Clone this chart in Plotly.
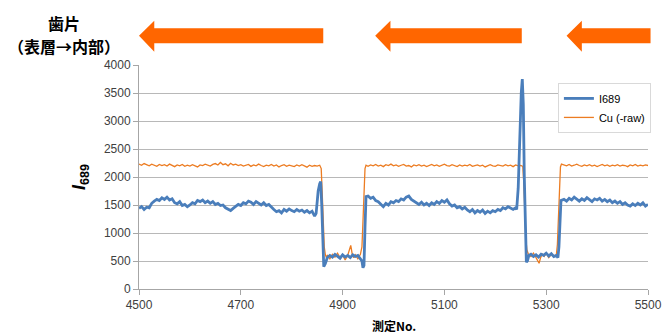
import plotly.graph_objects as go

# ---------------- data ----------------
# I689 (blue)
blue_A = [1440,1470,1420,1460,1450,1530,1570,1600,1580,1630,1600,1640,1590,1610,1540,1520,1560,1490,1510,1470,
          1500,1540,1520,1580,1560,1590,1540,1570,1530,1560,1510,1530,1490,1500,1450,1430,1400,1440,1480,1510,
          1490,1540,1520,1570,1550,1510,1560,1530,1500,1540,1490,1510,1460,1420,1380,1400,1360,1420,1390,1430,
          1400,1380,1420,1390,1410,1370,1400,1360,1390,1300]
blue_T1x = [4848, 4850, 4852, 4855, 4857, 4859, 4861, 4863, 4866]
blue_T1y = [1350, 1550, 1750, 1880, 1920, 1500, 700, 400, 450]
blue_B = [560, 600, 570, 620, 580, 550, 610, 570, 600, 560, 610, 580, 600, 550]
blue_T2x = [4938, 4940, 4942, 4944, 4946]
blue_T2y = [500, 380, 420, 1100, 1650]
blue_C = [1660,1620,1640,1580,1560,1510,1470,1530,1500,1560,1540,1580,1560,1610,1590,1640,1660,1600,1570,1530,
          1510,1550,1500,1530,1490,1540,1510,1560,1530,1580,1550,1590,1520,1480,1500,1450,1470,1430,1460,1410,
          1380,1420,1360,1400,1370,1410,1350,1390,1360,1400,1380,1420,1400,1450,1430,1470,1440,1420,1450]
blue_T3x = [5242, 5245, 5248, 5251, 5253, 5255, 5257, 5259, 5261, 5263, 5266]
blue_T3y = [1420, 1800, 2700, 3500, 3750, 3300, 2000, 800, 480, 500, 600]
blue_D = [620, 580, 610, 570, 620, 600, 640, 590, 630, 580, 600]
blue_T4x = [5323, 5325, 5327, 5329]
blue_T4y = [560, 750, 1300, 1580]
blue_E = [1600,1570,1620,1590,1640,1600,1570,1610,1580,1630,1600,1560,1610,1590,1620,1570,1600,1560,1590,1540,
          1570,1530,1560,1510,1540,1500,1480,1520,1490,1530,1500,1540,1480,1510]

# Cu (-raw) (orange)
cu_A = [2230,2210,2240,2220,2200,2230,2215,2190,2225,2205,2220,2195,2230,2210,2185,2215,2200,2225,2190,2210,
        2195,2220,2200,2180,2215,2205,2230,2210,2195,2225,2240,2215,2260,2220,2235,2200,2245,2215,2230,2205,
        2220,2195,2210,2225,2190,2215,2200,2230,2205,2185,2210,2200,2225,2195,2215,2180,2205,2220,2190,2210,
        2200,2185,2215,2195,2220,2200,2175,2210,2190,2205,2195,2210]
cu_T1x = [4858, 4860, 4862, 4864, 4866, 4868]
cu_T1y = [2150, 1700, 1100, 750, 620, 560]
cu_Bx = [4870, 4875, 4880, 4885, 4890, 4895, 4900, 4905, 4910, 4913, 4916, 4919, 4922, 4925, 4930, 4935]
cu_By = [600, 540, 620, 570, 640, 560, 610, 520, 600, 680, 780, 620, 560, 610, 540, 620]
cu_T2x = [4938, 4940, 4942, 4944, 4946]
cu_T2y = [750, 1200, 1800, 2150, 2210]
cu_C = [2190,2215,2200,2225,2195,2210,2185,2220,2205,2230,2200,2215,2190,2210,2225,2195,2205,2180,2215,2200,
        2220,2195,2210,2185,2205,2225,2200,2215,2190,2210,2230,2205,2195,2220,2200,2185,2215,2195,2210,2200,
        2225,2190,2205,2215,2195,2210,2180,2205,2220,2200,2190,2215,2205,2195,2220,2200,2210,2185,2215,2200,2205]
cu_T3x = [5254, 5256, 5258, 5260, 5262, 5265]
cu_T3y = [2190, 1900, 1300, 900, 700, 620]
cu_Dx = [5270, 5275, 5280, 5283, 5286, 5289, 5292, 5296, 5300, 5305, 5310, 5315, 5320]
cu_Dy = [580, 640, 560, 500, 460, 560, 620, 580, 640, 560, 620, 590, 610]
cu_T4x = [5322, 5324, 5326, 5328, 5330]
cu_T4y = [800, 1400, 2000, 2180, 2230]
cu_E = [2215,2200,2225,2195,2210,2230,2205,2190,2215,2200,2220,2195,2210,2185,2205,2225,2200,2215,2190,2210,
        2200,2220,2195,2210,2205,2185,2215,2200,2225,2195,2210,2200,2215,2205]

x_ticks = [4500, 4700, 4900, 5100, 5300, 5500]
y_ticks = [0, 500, 1000, 1500, 2000, 2500, 3000, 3500, 4000]
# arrow segments (tip, tail) in measurement numbers
arrows = [(4500, 4862), (4964, 5252), (5340, 5505)]
title_lines = ["歯片", "（表層→内部）"]

# ---------------- assemble ----------------
blue_x = (list(range(4500, 4850, 5)) + blue_T1x + list(range(4870, 4940, 5)) + blue_T2x +
          list(range(4950, 5241, 5)) + blue_T3x + list(range(5270, 5321, 5)) + blue_T4x +
          list(range(5335, 5501, 5)))
blue_y = blue_A + blue_T1y + blue_B + blue_T2y + blue_C + blue_T3y + blue_D + blue_T4y + blue_E
cu_x = (list(range(4500, 4856, 5)) + cu_T1x + cu_Bx + cu_T2x + list(range(4950, 5251, 5)) +
        cu_T3x + cu_Dx + cu_T4x + list(range(5335, 5501, 5)))
cu_y = cu_A + cu_T1y + cu_By + cu_T2y + cu_C + cu_T3y + cu_Dy + cu_T4y + cu_E
assert len(blue_x) == len(blue_y), (len(blue_x), len(blue_y))
assert len(cu_x) == len(cu_y), (len(cu_x), len(cu_y))

fig = go.Figure()
fig.add_trace(go.Scatter(x=cu_x, y=cu_y, mode="lines", name="Cu (-raw)",
                         line=dict(color="#EC7C22", width=1.3), legendrank=2))
fig.add_trace(go.Scatter(x=blue_x, y=blue_y, mode="lines", name="I689",
                         line=dict(color="#4A7EBB", width=2.8), legendrank=1))

X0, X1 = 4500, 5500
def px(v):
    return (v - X0) / (X1 - X0)

head_len = 30
yc_top, yc_bot = 1.164, 1.097
yh_top, yh_bot = 1.198, 1.059
ymid = (yc_top + yc_bot) / 2
for tip, tail in arrows:
    path = (f"M {px(tip)},{ymid} L {px(tip+head_len)},{yh_top} L {px(tip+head_len)},{yc_top} "
            f"L {px(tail)},{yc_top} L {px(tail)},{yc_bot} L {px(tip+head_len)},{yc_bot} "
            f"L {px(tip+head_len)},{yh_bot} Z")
    fig.add_shape(type="path", path=path, xref="paper", yref="paper",
                  fillcolor="#FF6600", line=dict(width=0))

cjk = "Noto Sans CJK JP"
for txt, yy in zip(title_lines, [1.1875, 1.0848]):
    fig.add_annotation(text=f"<b>{txt}</b>", xref="paper", yref="paper", x=-0.147, y=yy,
                       showarrow=False, font=dict(family=cjk, size=16, color="#000000"),
                       xanchor="center", yanchor="middle")
fig.add_annotation(text="<b>測定No.</b>", xref="paper", yref="paper", x=0.5, y=-0.161,
                   showarrow=False, font=dict(family=cjk, size=12, color="#000000"),
                   xanchor="center", yanchor="middle")
fig.add_annotation(text="<b><i>I</i><sub>689</sub></b>", xref="paper", yref="paper", x=-0.116, y=0.5,
                   showarrow=False, textangle=-90, font=dict(family="Liberation Sans", size=18, color="#000000"),
                   xanchor="center", yanchor="middle")

fig.update_layout(
    width=664, height=334,
    margin=dict(l=139, r=16, t=65, b=45, autoexpand=False),
    paper_bgcolor="white", plot_bgcolor="white",
    font=dict(family="Liberation Sans", size=12, color="#404040"),
    xaxis=dict(range=[X0, X1], tickvals=x_ticks, ticks="outside", ticklen=5, tickcolor="#A6A6A6",
               showline=True, linecolor="#A6A6A6", showgrid=False, zeroline=False,
               tickfont=dict(size=12, color="#404040")),
    yaxis=dict(range=[0, 4000], tickvals=y_ticks, ticks="outside", ticklen=5, tickcolor="#A6A6A6",
               showline=True, linecolor="#A6A6A6", showgrid=True, gridcolor="#B8B8B8", gridwidth=1,
               zeroline=False, tickfont=dict(size=12, color="#404040")),
    legend=dict(x=0.823, y=0.92, xanchor="left", yanchor="top", bgcolor="white",
                bordercolor="#D9D9D9", borderwidth=1, font=dict(size=11, color="#000000"),
                itemwidth=30, tracegroupgap=0),
    showlegend=True,
)

fig.write_html("out.html")
